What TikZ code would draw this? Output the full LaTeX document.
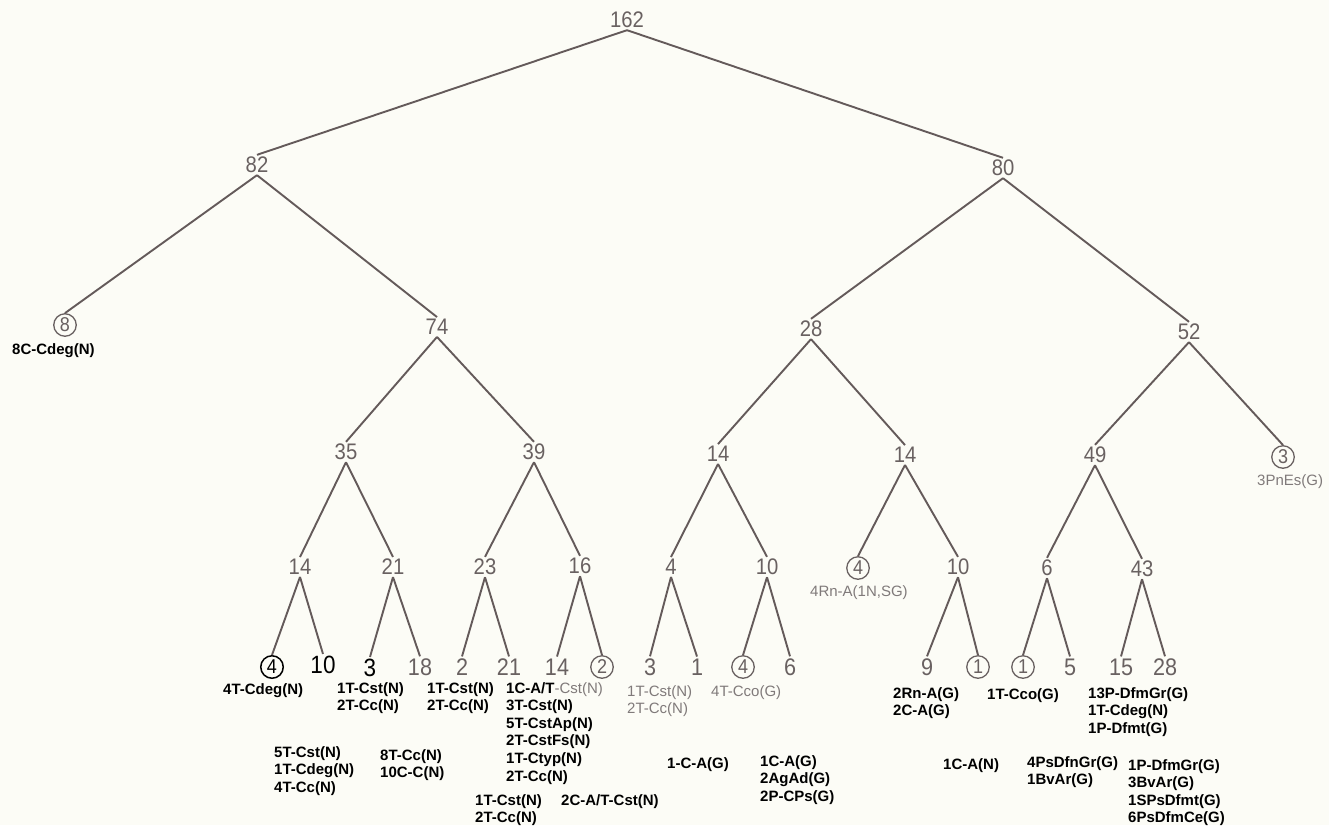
\documentclass[tikz,border=0pt]{standalone}
\usepackage{fontspec}
\setsansfont{Liberation Sans}
\newfontfamily\numfont[FakeStretch=0.9]{Liberation Sans}
\definecolor{bg}{RGB}{252,252,246}
\definecolor{linec}{RGB}{100,90,90}
\definecolor{numc}{RGB}{105,97,97}
\definecolor{lightc}{RGB}{128,122,122}
\tikzset{
  edge/.style={draw=linec, line width=1.9pt},
  num/.style={text=numc, font=\numfont\fontsize{22.5}{22.5}\selectfont, inner sep=2pt},
  leaf/.style={text=numc, font=\numfont\fontsize{24}{24}\selectfont, inner sep=2pt},
  bleaf/.style={leaf, text=black, font=\numfont\fontsize{25}{25}\selectfont},
  ring/.style={circle, draw=numc, line width=1.3pt, text=numc,
    font=\numfont\fontsize{20}{20}\selectfont, inner sep=0pt, minimum size=22.5pt},
  bring/.style={ring, draw=black, text=black, line width=1.5pt},
  lab/.style={font=\sffamily\bfseries\fontsize{15}{17.6}\selectfont, text=black,
    anchor=north west, align=left, inner sep=0pt},
  glab/.style={lab, font=\sffamily\fontsize{15}{17.6}\selectfont, text=lightc},
}
\begin{document}
\begin{tikzpicture}[x=1pt, y=-1pt]
\path[use as bounding box, fill=bg] (0,0) rectangle (1329,825);

% internal counts
\node[num] (r)    at (627,20)  {162};
\node[num] (n82)  at (257,165) {82};
\node[num] (n80)  at (1003,168) {80};
\node[ring] (c8)  at (65,325)  {8};
\node[num] (n74)  at (437,327) {74};
\node[num] (n28)  at (811,329) {28};
\node[num] (n52)  at (1189,332) {52};
\node[num] (n35)  at (346,452) {35};
\node[num] (n39)  at (534,452) {39};
\node[num] (n14a) at (718,454) {14};
\node[num] (n14b) at (905,455) {14};
\node[num] (n49)  at (1095,455) {49};
\node[ring] (c3)  at (1283,457) {3};
\node[num] (n14c) at (300,567) {14};
\node[num] (n21)  at (393,567) {21};
\node[num] (n23)  at (485,567) {23};
\node[num] (n16)  at (580,566) {16};
\node[num] (n4)   at (671,567) {4};
\node[num] (n10a) at (767,567) {10};
\node[ring] (c4a) at (858,568) {4};
\node[num] (n10b) at (958,567) {10};
\node[num] (n6)   at (1047,568) {6};
\node[num] (n43)  at (1142,569) {43};

% leaves
\node[bring] (lc4)  at (272,667) {4};
\node[bleaf] (l10)  at (323,665) {10};
\node[bleaf] (l3)   at (370,668) {3};
\node[leaf]  (l18)  at (420,667) {18};
\node[leaf]  (l2)   at (462,667) {2};
\node[leaf]  (l21)  at (509,667) {21};
\node[leaf]  (l14)  at (557,667) {14};
\node[ring]  (lc2)  at (602,667) {2};
\node[leaf]  (l3b)  at (650,667) {3};
\node[leaf]  (l1)   at (697,667) {1};
\node[ring]  (lc4b) at (743,667) {4};
\node[leaf]  (l6)   at (790,667) {6};
\node[leaf]  (l9)   at (927,667) {9};
\node[ring]  (lc1)  at (978,667) {1};
\node[ring]  (lc1b) at (1023,667) {1};
\node[leaf]  (l5)   at (1070,667) {5};
\node[leaf]  (l15)  at (1121,667) {15};
\node[leaf]  (l28)  at (1165,667) {28};

% branches
\foreach \p/\c in {r/n82, r/n80, n82/c8, n82/n74, n80/n28, n80/n52,
  n74/n35, n74/n39, n28/n14a, n28/n14b, n52/n49, n52/c3,
  n35/n14c, n35/n21, n39/n23, n39/n16, n14a/n4, n14a/n10a,
  n14b/c4a, n14b/n10b, n49/n6, n49/n43,
  n14c/lc4, n14c/l10, n21/l3, n21/l18, n23/l2, n23/l21, n16/l14, n16/lc2,
  n4/l3b, n4/l1, n10a/lc4b, n10a/l6, n10b/l9, n10b/lc1, n6/lc1b, n6/l5,
  n43/l15, n43/l28}
  \draw[edge] (\p.south) -- (\c.north);

% descriptions
\node[lab]  (t8)   at (12,343)   {8C-Cdeg(N)};
\node[glab] (t3)   at (1257,474) {3PnEs(G)};
\node[glab] (t4a)  at (810,585)  {4Rn-A(1N,SG)};
\node[lab]  (d1)   at (223,683)  {4T-Cdeg(N)};
\node[lab]  (d2)   at (274,746)  {5T-Cst(N)\\1T-Cdeg(N)\\4T-Cc(N)};
\node[lab]  (d3)   at (337,682)  {1T-Cst(N)\\2T-Cc(N)};
\node[lab]  (d4)   at (380,749)  {8T-Cc(N)\\10C-C(N)};
\node[lab]  (d5)   at (427,682)  {1T-Cst(N)\\2T-Cc(N)};
\node[lab]  (d6)   at (506,682)  {1C-A/T\textcolor{lightc}{\mdseries-Cst(N)}\\3T-Cst(N)\\5T-CstAp(N)\\2T-CstFs(N)\\1T-Ctyp(N)\\2T-Cc(N)};
\node[lab]  (d7)   at (475,794)  {1T-Cst(N)\\2T-Cc(N)};
\node[lab]  (d8)   at (561,794)  {2C-A/T-Cst(N)};
\node[glab] (d9)   at (627,685)  {1T-Cst(N)\\2T-Cc(N)};
\node[lab]  (d10)  at (667,757)  {1-C-A(G)};
\node[glab] (d11)  at (711,685)  {4T-Cco(G)};
\node[lab]  (d12)  at (760,755)  {1C-A(G)\\2AgAd(G)\\2P-CPs(G)};
\node[lab]  (d13)  at (893,687)  {2Rn-A(G)\\2C-A(G)};
\node[lab]  (d14)  at (943,758)  {1C-A(N)};
\node[lab]  (d15)  at (987,688)  {1T-Cco(G)};
\node[lab]  (d16)  at (1088,687) {13P-DfmGr(G)\\1T-Cdeg(N)\\1P-Dfmt(G)};
\node[lab]  (d17)  at (1027,756) {4PsDfnGr(G)\\1BvAr(G)};
\node[lab]  (d18)  at (1128,759) {1P-DfmGr(G)\\3BvAr(G)\\1SPsDfmt(G)\\6PsDfmCe(G)};
\end{tikzpicture}
\end{document}
